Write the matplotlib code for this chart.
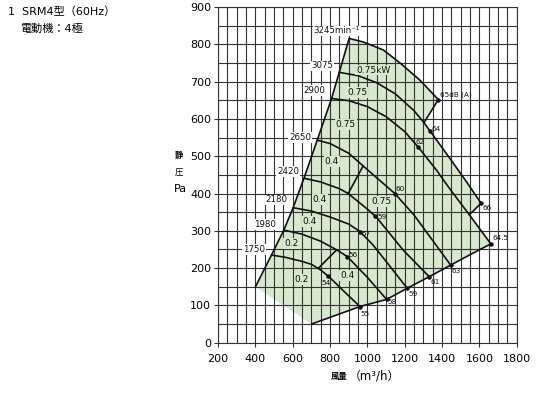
import numpy as np
import matplotlib
matplotlib.use("Agg")
import matplotlib.pyplot as plt

plt.rcParams["font.family"] = ["DejaVu Sans", "Noto Sans CJK JP"]

FILL = "#d6e8cd"
GRID = "#333333"
INK = "#111111"

# fan curves, one per speed (air volume m3/h, static pressure Pa)
RPM = [3245, 3075, 2900, 2650, 2420, 2180, 1980, 1750]
Q_3245 = [902, 980, 1085, 1180, 1281, 1380]
P_3245 = [816, 806, 785, 748, 704, 652]
Q_3075 = [849, 950, 1050, 1150, 1250, 1303, 1335, 1442, 1530, 1609]
P_3075 = [725, 716, 697, 667, 622, 590, 568, 494, 432, 374]
Q_2900 = [808, 900, 1000, 1100, 1200, 1273, 1371, 1442, 1546, 1661]
P_2900 = [655, 649, 633, 606, 566, 524, 462, 412, 343, 265]
Q_2650 = [731, 800, 900, 977, 1050, 1147, 1250, 1335, 1446]
P_2650 = [543, 534, 508, 474, 442, 400, 342, 284, 208]
Q_2420 = [660, 750, 850, 897, 1000, 1049, 1192, 1331]
P_2420 = [441, 431, 413, 400, 358, 336, 248, 177]
Q_2180 = [602, 700, 800, 900, 960, 1030, 1103, 1213]
P_2180 = [362, 353, 337, 318, 298, 262, 216, 146]
Q_1980 = [552, 650, 750, 835, 892, 1000, 1103]
P_1980 = [302, 291, 272, 249, 231, 175, 116]
Q_1750 = [486, 560, 650, 700, 750, 800, 880, 960]
P_1750 = [235, 229, 218, 210, 195, 174, 135, 97]

CURVES_Q = [Q_3245, Q_3075, Q_2900, Q_2650, Q_2420, Q_2180, Q_1980, Q_1750]
CURVES_P = [P_3245, P_3075, P_2900, P_2650, P_2420, P_2180, P_1980, P_1750]

# surge (left) limit and bottom limit
SURGE_Q = [400, 486, 552, 602, 660, 731, 808, 849, 902]
SURGE_P = [150, 235, 302, 362, 441, 543, 655, 725, 816]
BOTTOM_Q = [700, 800, 960, 1103, 1213, 1331, 1446, 1550, 1661]
BOTTOM_P = [50, 68, 97, 116, 146, 177, 208, 236, 265]

# short boundary segments (noise / motor zones)
SEGMENTS = [((1380, 652), (1303, 590)), ((1609, 374), (1546, 343)),
            ((977, 474), (897, 400)), ((835, 249), (736, 199))]

# noise points and their labels
NOISE_Q = [1380, 1335, 1273, 1609, 1661, 1147, 1040, 960, 892, 790, 960, 1103, 1213, 1331, 1446]
NOISE_P = [652, 568, 524, 374, 265, 400, 340, 298, 231, 178, 97, 116, 146, 177, 208]
NOISE_LBL = ["65dB (A)", "64", "62", "66", "64.5", "60", "59", "57", "56", "54",
             "55", "58", "59", "61", "63"]
NOISE_LX = [1390, 1345, 1258, 1617, 1668, 1150, 1052, 968, 900, 752, 962, 1108, 1218, 1336, 1452]
NOISE_LY = [664, 574, 538, 362, 280, 413, 338, 291, 235, 161, 77, 110, 130, 162, 193]

# motor output labels
KW_LBL = ["0.75kW", "0.75", "0.75", "0.4", "0.4", "0.4", "0.2", "0.2", "0.4", "0.75"]
KW_Q = [1031, 945, 883, 808, 745, 692, 593, 647, 892, 1076]
KW_P = [731, 670, 585, 485, 383, 324, 266, 170, 180, 378]

# speed label positions
RPM_LBL = ["3245min⁻¹", "3075", "2900", "2650", "2420", "2180", "1980", "1750"]
RPM_LQ = [835, 758, 718, 638, 575, 513, 450, 393]
RPM_LP = [836, 742, 676, 551, 460, 383, 316, 250]

fig = plt.figure(figsize=(5.48, 3.93), dpi=100)
ax = fig.add_axes([0.398, 0.128, 0.545, 0.854])
ax.set_xlim(200, 1800)
ax.set_ylim(0, 900)
ax.set_xticks(np.arange(200, 1801, 200))
ax.set_yticks(np.arange(0, 901, 100))
ax.set_xticks(np.arange(200, 1801, 50), minor=True)
ax.set_yticks(np.arange(0, 901, 50), minor=True)
ax.grid(True, which="both", color=GRID, lw=0.8)
ax.set_axisbelow(False)
ax.tick_params(which="major", length=3, width=0.8, color=GRID, labelsize=8, pad=2)
ax.tick_params(which="minor", length=0)
ax.tick_params(axis="x", pad=5)
for s in ax.spines.values():
    s.set_color(GRID)
    s.set_linewidth(0.8)

# shaded operating region
i3075 = Q_3075.index(1303)
i2900 = Q_2900.index(1546)
poly_q = (SURGE_Q + Q_3245[1:] + Q_3075[i3075:] + Q_2900[i2900:] + BOTTOM_Q[::-1])
poly_p = (SURGE_P + P_3245[1:] + P_3075[i3075:] + P_2900[i2900:] + BOTTOM_P[::-1])
ax.fill(poly_q, poly_p, color=FILL, lw=0, zorder=1)

lk = dict(color=INK, lw=1.2, zorder=3, solid_capstyle="round", solid_joinstyle="round")
ax.plot(SURGE_Q, SURGE_P, **lk)
ax.plot(BOTTOM_Q, BOTTOM_P, **lk)
for q, p in zip(CURVES_Q, CURVES_P):
    ax.plot(q, p, **lk)
for a, b in SEGMENTS:
    ax.plot([a[0], b[0]], [a[1], b[1]], **lk)

ax.scatter(NOISE_Q, NOISE_P, s=5, color=INK, zorder=4)
for q, p, t in zip(NOISE_LX, NOISE_LY, NOISE_LBL):
    ax.text(q, p, t, fontsize=5.2, ha="left", va="center", color=INK, zorder=5)

for q, p, t in zip(KW_Q, KW_P, KW_LBL):
    ax.text(q, p, t, fontsize=6.5, ha="center", va="center", color=INK, zorder=5,
            bbox=dict(boxstyle="square,pad=0.1", fc=FILL, ec="none"))

for q, p, t in zip(RPM_LQ, RPM_LP, RPM_LBL):
    ax.text(q, p, t, fontsize=6.2, ha="center", va="center", color=INK, zorder=5,
            bbox=dict(boxstyle="square,pad=0.1", fc="white", ec="none"))

# titles and axis captions
fig.text(8 / 548, 1 - 12 / 393, "1  SRM4型（60Hz）", fontsize=8, va="center", ha="left")
fig.text(20 / 548, 1 - 29 / 393, "電動機：4極", fontsize=8, va="center", ha="left")
fig.text(179 / 548, 1 - 155 / 393, "静", fontsize=6, fontweight="bold", ha="center", va="center")
fig.text(179 / 548, 1 - 172 / 393, "圧", fontsize=6, ha="center", va="center")
fig.text(180 / 548, 1 - 189 / 393, "Pa", fontsize=8, ha="center", va="center")
fig.text(339 / 548, 1 - 376 / 393, "風量", fontsize=6, fontweight="bold", ha="center", va="center")
fig.text(374 / 548, 1 - 376 / 393, "（m³/h）", fontsize=8.5, ha="center", va="center")

fig.savefig("out.png", dpi=100)
